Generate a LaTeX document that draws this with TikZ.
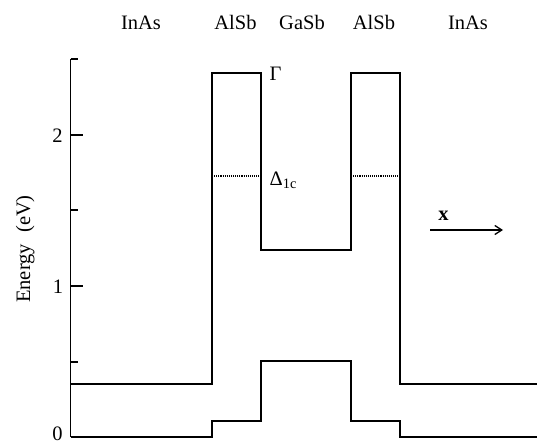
\documentclass[tikz,border=0pt]{standalone}
\usepackage{fontspec}
\setmainfont{Liberation Serif}
\usetikzlibrary{arrows.meta}

\begin{document}
\begin{tikzpicture}[x=1pt,y=-1pt,
    band/.style={line width=1.8pt,line join=miter},
    valley/.style={line width=1.1pt,densely dotted},
    axisline/.style={line width=1.3pt},
    tickmark/.style={line width=1.2pt},
    lbl/.style={font=\fontsize{20.5}{24}\selectfont,inner sep=0pt},
  ]
  \useasboundingbox (0,0) rectangle (537,444);

  % energy axis from 0 to 2.5 eV (151 units per eV)
  \coordinate (ax0) at (70.5,437);
  \coordinate (axtop) at (70.5,59);
  \draw[axisline] (ax0) -- (axtop);
  \foreach \y in {286,135} \draw[tickmark] (70.5,\y) -- (83,\y);
  \foreach \y in {362,210,59} \draw[tickmark] (70.5,\y) -- (78,\y);

  \node[lbl] (t0) at (57.5,433.5) {0};
  \node[lbl] (t1) at (58,287) {1};
  \node[lbl] (t2) at (57.5,135.5) {2};
  \node[lbl,rotate=90,anchor=base] (ylab) at (30,249) {Energy\hspace{0.55em}(eV)};

  % layer names
  \node[lbl,anchor=base] (m1) at (141,30) {InAs};
  \node[lbl,anchor=base] (m2) at (235.5,30) {AlSb};
  \node[lbl,anchor=base] (m3) at (302,30) {GaSb};
  \node[lbl,anchor=base] (m4) at (374,30) {AlSb};
  \node[lbl,anchor=base] (m5) at (468,30) {InAs};

  % conduction band (Gamma)
  \draw[band] (70.5,384) -- (212,384) -- (212,73) -- (261,73) -- (261,250)
    -- (351,250) -- (351,73) -- (400,73) -- (400,384) -- (537,384);
  % valence band
  \draw[band] (70.5,437) -- (212,437) -- (212,421) -- (261,421) -- (261,361)
    -- (351,361) -- (351,421) -- (400,421) -- (400,437) -- (537,437);
  % Delta_1c minimum in the AlSb barriers
  \draw[valley] (212,176) -- (261,176);
  \draw[valley] (351,176) -- (400,176);

  \node[lbl,anchor=base west] (gam) at (269.5,80) {Γ};
  \node[lbl,anchor=base west] (del) at (269.5,185) {Δ\textsubscript{1c}};

  % growth direction
  \coordinate (xa) at (430,230);
  \coordinate (xb) at (503,230);
  \draw[line width=1.6pt,-{Straight Barb[length=7pt,width=9pt,line width=1.3pt]}] (xa) -- (xb);
  \node[lbl,anchor=base,font=\fontsize{20.5}{24}\selectfont\bfseries] (xl) at (443.5,220) {x};
\end{tikzpicture}
\end{document}
